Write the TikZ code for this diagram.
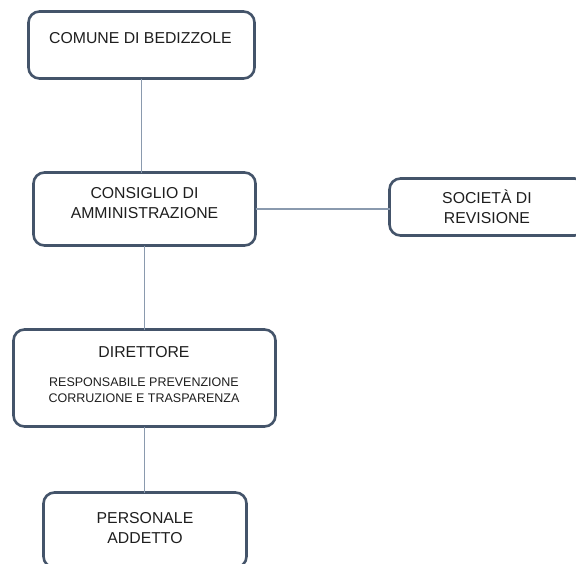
\documentclass[tikz,border=0pt]{standalone}
\usepackage{fontspec}
\setmainfont{Liberation Sans}
\definecolor{boxline}{HTML}{44546A}
\definecolor{connline}{HTML}{8A9AAE}
\definecolor{txt}{HTML}{1E1E1E}
\begin{document}
\begin{tikzpicture}[x=1pt,y=-1pt,
  orgbox/.style={draw=boxline, line width=2.6pt, rounded corners=11pt, fill=white,
    inner sep=0pt, outer sep=0pt},
  bigtxt/.style={text=txt, align=center, inner sep=0pt,
    font=\fontsize{15.8}{20}\selectfont},
  smalltxt/.style={text=txt, align=center, inner sep=0pt,
    font=\fontsize{12.5}{16}\selectfont},
  conn/.style={draw=connline, line width=1.2pt}]
\useasboundingbox (0,0) rectangle (576,563);
\clip (0,0) rectangle (576,563);
% boxes
\node[orgbox, minimum width=226pt, minimum height=67pt] (com) at (141.5,45) {};
\node[orgbox, minimum width=222pt, minimum height=73pt] (cons) at (144.5,209) {};
\node[orgbox, minimum width=196pt, minimum height=57pt] (soc) at (487.5,207) {};
\node[orgbox, minimum width=262pt, minimum height=97pt] (dir) at (144.5,378) {};
\node[orgbox, minimum width=203pt, minimum height=75pt] (pers) at (145,530) {};
% connectors
\draw[conn] (com.south) -- (com.south |- cons.north);
\draw[conn] (cons.south) -- (cons.south |- dir.north);
\draw[conn] (cons.east) -- (cons.east -| soc.west);
\draw[conn] (dir.south) -- (dir.south |- pers.north);
% texts
\node[bigtxt] (comt) at (140.5,38) {COMUNE DI BEDIZZOLE};
\node[bigtxt] (const) at (144.5,203) {CONSIGLIO DI\\AMMINISTRAZIONE};
\node[bigtxt] (soct) at (487,207) {SOCIETÀ DI\\REVISIONE};
\node[bigtxt] (dirt) at (144,352) {DIRETTORE};
\node[smalltxt] (rpct) at (144,390) {RESPONSABILE PREVENZIONE\\CORRUZIONE E TRASPARENZA};
\node[bigtxt] (perst) at (145,528.5) {PERSONALE\\ADDETTO};
\end{tikzpicture}
\end{document}
